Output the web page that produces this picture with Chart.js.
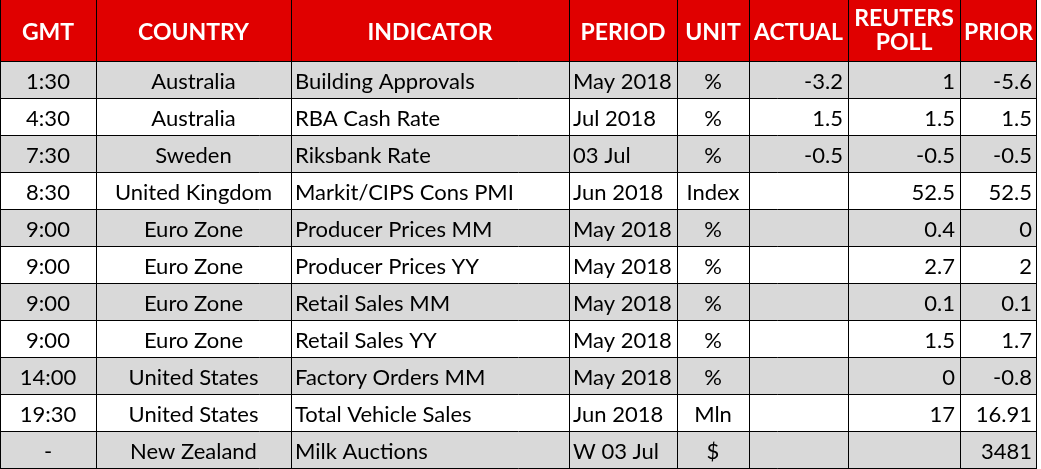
<!DOCTYPE html>
<html>
<head>
<meta charset="utf-8">
<script src="https://cdn.jsdelivr.net/npm/chart.js@4.4.0/dist/chart.umd.min.js"></script>
<style>
  html, body { margin: 0; padding: 0; background: #ffffff; }
  #wrap { width: 1041px; height: 469px; }
</style>
</head>
<body>
<div id="wrap"><canvas id="c" width="1041" height="469"></canvas></div>
<script>
// ---- data ----
const headers = ['GMT', 'COUNTRY', 'INDICATOR', 'PERIOD', 'UNIT', 'ACTUAL', 'REUTERS\nPOLL', 'PRIOR'];
const gmt = ['1:30', '4:30', '7:30', '8:30', '9:00', '9:00', '9:00', '9:00', '14:00', '19:30', '-'];
const country = ['Australia', 'Australia', 'Sweden', 'United Kingdom', 'Euro Zone', 'Euro Zone', 'Euro Zone', 'Euro Zone', 'United States', 'United States', 'New Zealand'];
const indicator = ['Building Approvals', 'RBA Cash Rate', 'Riksbank Rate', 'Markit/CIPS Cons PMI', 'Producer Prices MM', 'Producer Prices YY', 'Retail Sales MM', 'Retail Sales YY', 'Factory Orders MM', 'Total Vehicle Sales', 'Milk Auctions'];
const period = ['May 2018', 'Jul 2018', '03 Jul', 'Jun 2018', 'May 2018', 'May 2018', 'May 2018', 'May 2018', 'May 2018', 'Jun 2018', 'W 03 Jul'];
const unit = ['%', '%', '%', 'Index', '%', '%', '%', '%', '%', 'Mln', '$'];
const actual = [-3.2, 1.5, -0.5, null, null, null, null, null, null, null, null];
const poll = [1, 1.5, -0.5, 52.5, 0.4, 2.7, 0.1, 1.5, 0, 17, null];
const prior = [-5.6, 1.5, -0.5, 52.5, 0, 2, 0.1, 1.7, -0.8, 16.91, 3481];

// ---- layout (table geometry in scale units) ----
const colEdges = [0, 96, 291, 569, 677, 749, 848, 960, 1037];
const colAlign = ['center', 'center', 'left', 'left', 'center', 'right', 'right', 'right'];
const headerH = 62;
const rowH = 37;
const TOTAL_W = 1041, TOTAL_H = headerH + rowH * gmt.length;

const fmt = v => (v === null || v === undefined) ? '' : String(v);
const columns = [gmt, country, indicator, period, unit, actual.map(fmt), poll.map(fmt), prior.map(fmt)];

const tablePlugin = {
  id: 'tablePlugin',
  beforeDatasetsDraw(chart) {
    const ctx = chart.ctx;
    const xs = chart.scales.x, ys = chart.scales.y;
    const X = v => Math.round(xs.getPixelForValue(v));
    const Y = v => Math.round(ys.getPixelForValue(v));
    ctx.save();
    // header background
    ctx.fillStyle = '#e00000';
    ctx.fillRect(X(colEdges[0]), Y(0), X(colEdges[colEdges.length - 1]) - X(colEdges[0]), Y(headerH) - Y(0));
    // row backgrounds
    for (let r = 0; r < gmt.length; r++) {
      const y0 = headerH + r * rowH;
      ctx.fillStyle = (r % 2 === 0) ? '#d9d9d9' : '#ffffff';
      ctx.fillRect(X(colEdges[0]), Y(y0), X(colEdges[colEdges.length - 1]) - X(colEdges[0]), Y(y0 + rowH) - Y(y0));
    }
    // grid lines
    ctx.strokeStyle = '#000000';
    ctx.lineWidth = 1;
    ctx.beginPath();
    for (let c = 0; c < colEdges.length; c++) {
      const x = X(colEdges[c]) + 0.5 - (c === colEdges.length - 1 ? 1 : 0);
      ctx.moveTo(x, Y(0));
      ctx.lineTo(x, Y(TOTAL_H));
    }
    for (let r = 0; r <= gmt.length; r++) {
      const y = Y(headerH + r * rowH) - 0.5;
      ctx.moveTo(X(colEdges[0]), y);
      ctx.lineTo(X(colEdges[colEdges.length - 1]), y);
    }
    ctx.stroke();
    // header text
    ctx.fillStyle = '#ffffff';
    ctx.font = 'bold 23px Lato';
    ctx.textAlign = 'center';
    ctx.textBaseline = 'middle';
    headers.forEach((h, c) => {
      const cx = (X(colEdges[c]) + X(colEdges[c + 1])) / 2;
      const lines = h.split('\n');
      const lh = 24;
      const cy = Y(headerH / 2) + (lines.length > 1 ? 0 : 2);
      lines.forEach((ln, i) => {
        ctx.fillText(ln, cx, cy + (i - (lines.length - 1) / 2) * lh);
      });
    });
    // body text
    ctx.fillStyle = '#000000';
    ctx.font = '22px Lato';
    columns.forEach((col, c) => {
      const x0 = X(colEdges[c]), x1 = X(colEdges[c + 1]);
      col.forEach((txt, r) => {
        const cy = (Y(headerH + r * rowH) + Y(headerH + (r + 1) * rowH)) / 2 + 1.5;
        let tx;
        if (colAlign[c] === 'left') { ctx.textAlign = 'left'; tx = x0 + 4; }
        else if (colAlign[c] === 'right') { ctx.textAlign = 'right'; tx = x1 - 5; }
        else { ctx.textAlign = 'center'; tx = (x0 + x1) / 2; }
        ctx.fillText(txt, tx, cy);
      });
    });
    ctx.restore();
  }
};

new Chart(document.getElementById('c'), {
  type: 'scatter',
  data: { datasets: [{ data: [], pointRadius: 0 }] },
  options: {
    responsive: false,
    animation: false,
    devicePixelRatio: 1,
    layout: { padding: 0 },
    plugins: { legend: { display: false }, tooltip: { enabled: false } },
    scales: {
      x: { type: 'linear', min: 0, max: TOTAL_W, display: false },
      y: { type: 'linear', min: 0, max: TOTAL_H, reverse: true, display: false }
    }
  },
  plugins: [tablePlugin]
});
</script>
</body>
</html>
